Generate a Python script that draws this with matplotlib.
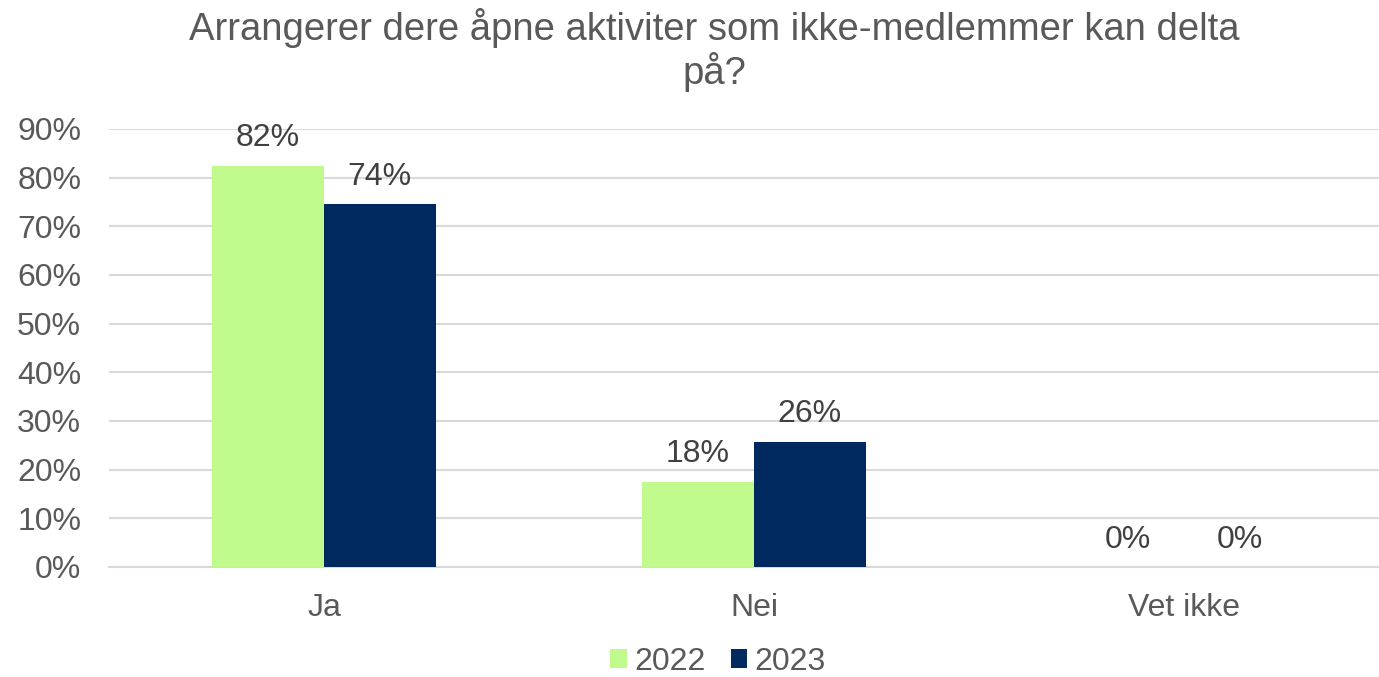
import matplotlib
matplotlib.use("Agg")
import matplotlib.pyplot as plt
import numpy as np
from matplotlib.ticker import FuncFormatter, MultipleLocator

categories = ["Ja", "Nei", "Vet ikke"]
series_names = ["2022", "2023"]
values_2022 = [0.825, 0.175, 0.0]
values_2023 = [0.745, 0.257, 0.0]
colors = ["#C0F98C", "#002960"]
title = "Arrangerer dere åpne aktiviter som ikke-medlemmer kan delta\npå?"

plt.rcParams['font.family'] = ['Liberation Sans', 'DejaVu Sans']
text_color = "#595959"

W, H = 1379, 677
fig = plt.figure(figsize=(W / 100, H / 100), dpi=100)
left_px, right_px, top_px, bottom_px = 109, 1399, 129, 567
ax = fig.add_axes([left_px / W, 1 - bottom_px / H, (right_px - left_px) / W, (bottom_px - top_px) / H])

x = np.arange(len(categories))
bw = 0.26
b1 = ax.bar(x - bw / 2, values_2022, bw, color=colors[0], label=series_names[0], zorder=3)
b2 = ax.bar(x + bw / 2, values_2023, bw, color=colors[1], label=series_names[1], zorder=3)

for bars, vals in ((b1, values_2022), (b2, values_2023)):
    for rect, v in zip(bars, vals):
        ax.annotate(f"{round(v * 100):.0f}%", (rect.get_x() + rect.get_width() / 2, v),
                    xytext=(0, 9), textcoords="offset points",
                    ha="center", va="bottom", fontsize=23, color="#404040")

ax.set_xlim(-0.5, 2.5)
ax.set_ylim(0, 0.9)
ax.yaxis.set_major_locator(MultipleLocator(0.1))
ax.yaxis.set_major_formatter(FuncFormatter(lambda v, p: f"{v * 100:.0f}%"))
ax.grid(axis="y", color="#D9D9D9", linewidth=1.5, zorder=0)
ax.set_xticks(x)
ax.set_xticklabels(categories)
ax.tick_params(axis="both", length=0, labelsize=23, colors=text_color)
ax.tick_params(axis="x", pad=19)
ax.tick_params(axis="y", pad=20)
for s in ["top", "right", "left"]:
    ax.spines[s].set_visible(False)
ax.spines["bottom"].set_color("#D9D9D9")
ax.spines["bottom"].set_linewidth(1.5)

fig.text(714 / W, 1 - 8 / H, title, ha="center", va="top", fontsize=27.5, color=text_color, linespacing=1.12)

leg = fig.legend(loc="center", bbox_to_anchor=(718 / W, 1 - 662 / H), ncol=2, frameon=False,
                 fontsize=23, handlelength=0.53, handleheight=0.53, handletextpad=0.22, columnspacing=0.78)
for t in leg.get_texts():
    t.set_color(text_color)

fig.savefig("out.png", dpi=100)
